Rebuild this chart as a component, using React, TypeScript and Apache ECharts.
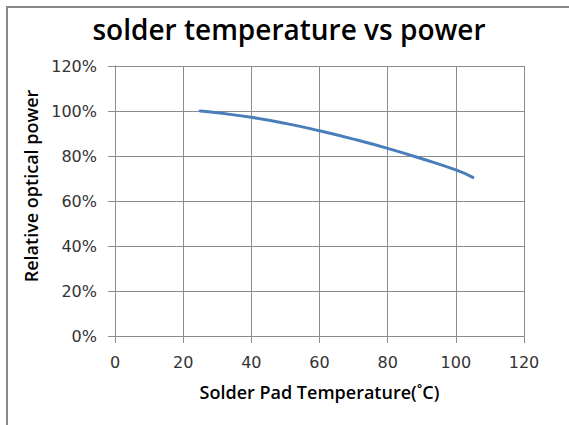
import React, { useEffect, useRef } from "react";
import * as echarts from "echarts";

const temperatures = [25, 30, 40, 50, 60, 70, 80, 90, 100, 105];
const relativePower = [100, 99.2, 97.2, 94.5, 91.2, 87.5, 83.4, 78.8, 73.8, 70.5];
const titleText = "solder temperature vs power";
const xAxisTitle = "Solder Pad Temperature(˚C)";
const yAxisTitle = "Relative optical power";

export default function App() {
  const ref = useRef<HTMLDivElement>(null);
  useEffect(() => {
    if (!ref.current) return;
    const chart = echarts.init(ref.current, undefined, { renderer: "svg" });
    const font = "'Open Sans', 'DejaVu Sans', sans-serif";
    const tickFont = "'DejaVu Sans', sans-serif";
    const labelColor = "#333333";
    const gridColor = "#8c8c8c";
    chart.setOption({
      animation: false,
      backgroundColor: "#ffffff",
      title: {
        text: titleText,
        left: 284,
        top: 10,
        textAlign: "center",
        textStyle: { fontFamily: font, fontSize: 28, fontWeight: 600, color: "#000000" },
      },
      graphic: [
        {
          type: "rect",
          shape: { x: 7, y: 7, width: 620, height: 500 },
          style: { fill: "none", stroke: "#888888", lineWidth: 2 },
          silent: true,
        },
        {
          type: "text",
          x: 31,
          y: 186,
          rotation: Math.PI / 2,
          style: {
            text: yAxisTitle,
            fontFamily: font,
            fontSize: 18,
            fontWeight: 600,
            fill: "#000000",
            textAlign: "center",
            textVerticalAlign: "middle",
          },
        },
      ],
      grid: { left: 115, right: 45, top: 66, bottom: 89, containLabel: false, outerBoundsMode: "none" },
      xAxis: {
        type: "value",
        min: 0,
        max: 120,
        interval: 20,
        name: xAxisTitle,
        nameLocation: "middle",
        nameGap: 47,
        nameTextStyle: { fontFamily: font, fontSize: 18, fontWeight: 600, color: "#000000" },
        axisLine: { show: true, lineStyle: { color: gridColor, width: 1 } },
        axisTick: { show: true, length: 7, lineStyle: { color: gridColor } },
        axisLabel: { fontFamily: tickFont, fontSize: 16, color: labelColor, margin: 18 },
        splitLine: { show: true, lineStyle: { color: gridColor, width: 1 } },
      },
      yAxis: {
        type: "value",
        min: 0,
        max: 120,
        interval: 20,
        axisLine: { show: true, lineStyle: { color: gridColor, width: 1 } },
        axisTick: { show: true, length: 7, lineStyle: { color: gridColor } },
        axisLabel: { fontFamily: tickFont, fontSize: 16, color: labelColor, margin: 18, formatter: "{value}%" },
        splitLine: { show: true, lineStyle: { color: gridColor, width: 1 } },
      },
      series: [
        {
          type: "line",
          data: temperatures.map((t, i) => [t, relativePower[i]]),
          smooth: true,
          showSymbol: false,
          lineStyle: { color: "#4a7ebb", width: 3, cap: "round" },
        },
      ],
    });
    return () => chart.dispose();
  }, []);
  return <div ref={ref} style={{ position: "fixed", left: 0, top: 0, width: 569, height: 425 }} />;
}
